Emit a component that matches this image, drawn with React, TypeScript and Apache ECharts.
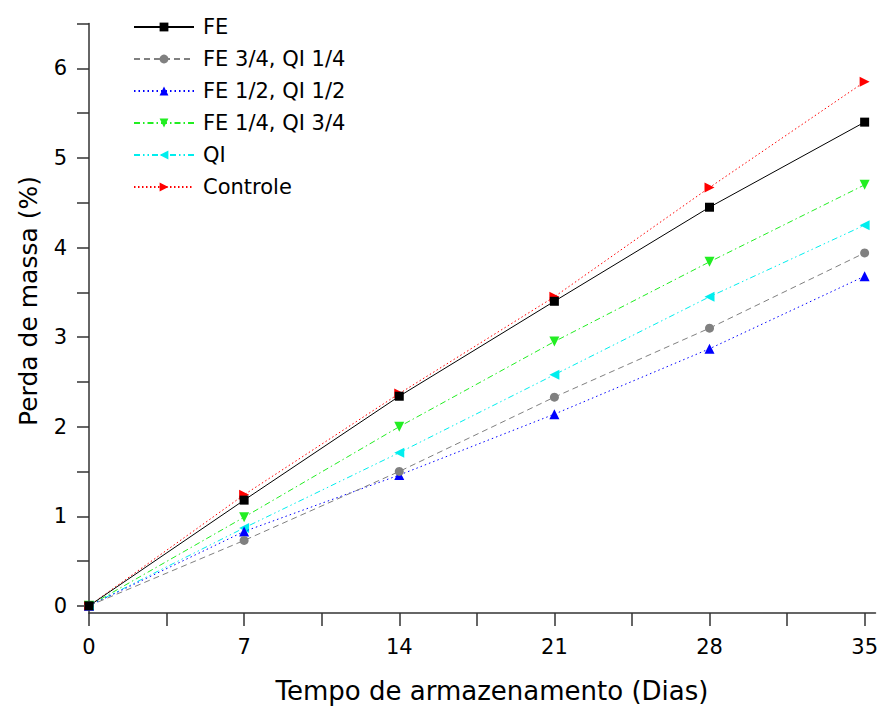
import React, { useEffect, useRef } from "react";
import * as echarts from "echarts";

const days = [0, 7, 14, 21, 28, 35];
const seriesNames = ["FE", "FE 3/4, QI 1/4", "FE 1/2, QI 1/2", "FE 1/4, QI 3/4", "QI", "Controle"];
const feValues = [0, 1.18, 2.34, 3.4, 4.45, 5.4];
const fe34Values = [0, 0.73, 1.5, 2.33, 3.1, 3.94];
const fe12Values = [0, 0.83, 1.46, 2.14, 2.87, 3.68];
const fe14Values = [0, 0.99, 2.0, 2.95, 3.84, 4.7];
const qiValues = [0, 0.87, 1.71, 2.58, 3.45, 4.25];
const controleValues = [0, 1.24, 2.37, 3.45, 4.67, 5.85];
const xTickLabels = [0, 7, 14, 21, 28, 35];
const yTickLabels = [0, 1, 2, 3, 4, 5, 6];
const xTitle = "Tempo de armazenamento (Dias)";
const yTitle = "Perda de massa (%)";

const FONT = "DejaVu Sans, Liberation Sans, Arial, sans-serif";

export default function App() {
  const ref = useRef<HTMLDivElement>(null);
  useEffect(() => {
    if (!ref.current) return;
    const chart = echarts.init(ref.current, null, { renderer: "svg" });
    const allValues = [feValues, fe34Values, fe12Values, fe14Values, qiValues, controleValues];
    const colors = ["#000000", "#808080", "#0000ff", "#22ee22", "#00eeee", "#ff0000"];
    const symbols = ["rect", "circle", "triangle", "triangle", "triangle", "triangle"];
    const rotates = [0, 0, 0, 180, 90, -90];
    const sizes = [9, 9, 10, 10, 10, 10];
    const dashes: any[] = ["solid", [6, 4], [1.5, 3], [6, 3, 1.5, 3], [6, 3, 1.5, 3, 1.5, 3], [1.5, 2.5]];
    const series = allValues.map((vals, i) => ({
      name: seriesNames[i],
      type: "line",
      data: vals.map((v, j) => [days[j], v]),
      symbol: symbols[i],
      symbolRotate: rotates[i],
      symbolSize: sizes[i],
      showAllSymbol: true,
      itemStyle: { color: colors[i] },
      lineStyle: { color: colors[i], width: 1, type: dashes[i] },
      z: 10 - i,
    }));
    const xTicks: number[] = [];
    for (let t = 0; t <= 35; t += 3.5) xTicks.push(t);
    const yTicks: number[] = [];
    for (let t = 0; t <= 6.5; t += 0.5) yTicks.push(t);
    chart.setOption({
      animation: false,
      backgroundColor: "#ffffff",
      grid: { left: 89, right: 0, top: 23.6, bottom: 93, containLabel: false },
      legend: {
        orient: "vertical",
        left: 128,
        top: 11,
        itemWidth: 60,
        itemHeight: 11,
        itemGap: 10,
        data: seriesNames,
        textStyle: { fontFamily: FONT, fontSize: 21, color: "#000", lineHeight: 22, padding: [0, 0, 0, 4] },
      },
      graphic: [
        {
          type: "text",
          x: 492,
          y: 691,
          style: { text: xTitle, font: "26px " + FONT, fill: "#000", align: "center", verticalAlign: "middle" },
        },
        {
          type: "text",
          x: 28,
          y: 301,
          rotation: Math.PI / 2,
          style: { text: yTitle, font: "25px " + FONT, fill: "#000", align: "center", verticalAlign: "middle" },
        },
      ],
      xAxis: {
        type: "value",
        min: 0,
        max: 35.49,
        axisLine: { onZero: false, lineStyle: { color: "#333", width: 1.5 } },
        axisTick: { show: true, length: 13, customValues: xTicks, lineStyle: { color: "#333", width: 1.5 } },
        axisLabel: { customValues: xTickLabels, margin: 23, fontFamily: FONT, fontSize: 21, color: "#000" },
        splitLine: { show: false },
      },
      yAxis: {
        type: "value",
        min: -0.08,
        max: 6.5,
        axisLine: { show: true, onZero: false, lineStyle: { color: "#333", width: 1.5 } },
        axisTick: { show: true, length: 12, customValues: yTicks, lineStyle: { color: "#333", width: 1.5 } },
        axisLabel: { customValues: yTickLabels, margin: 22, fontFamily: FONT, fontSize: 21, color: "#000" },
        splitLine: { show: false },
      },
      series,
    });
    return () => chart.dispose();
  }, []);
  return (
    <div
      ref={ref}
      style={{ position: "fixed", left: 0, top: 0, width: 881, height: 706, background: "#fff" }}
    />
  );
}
